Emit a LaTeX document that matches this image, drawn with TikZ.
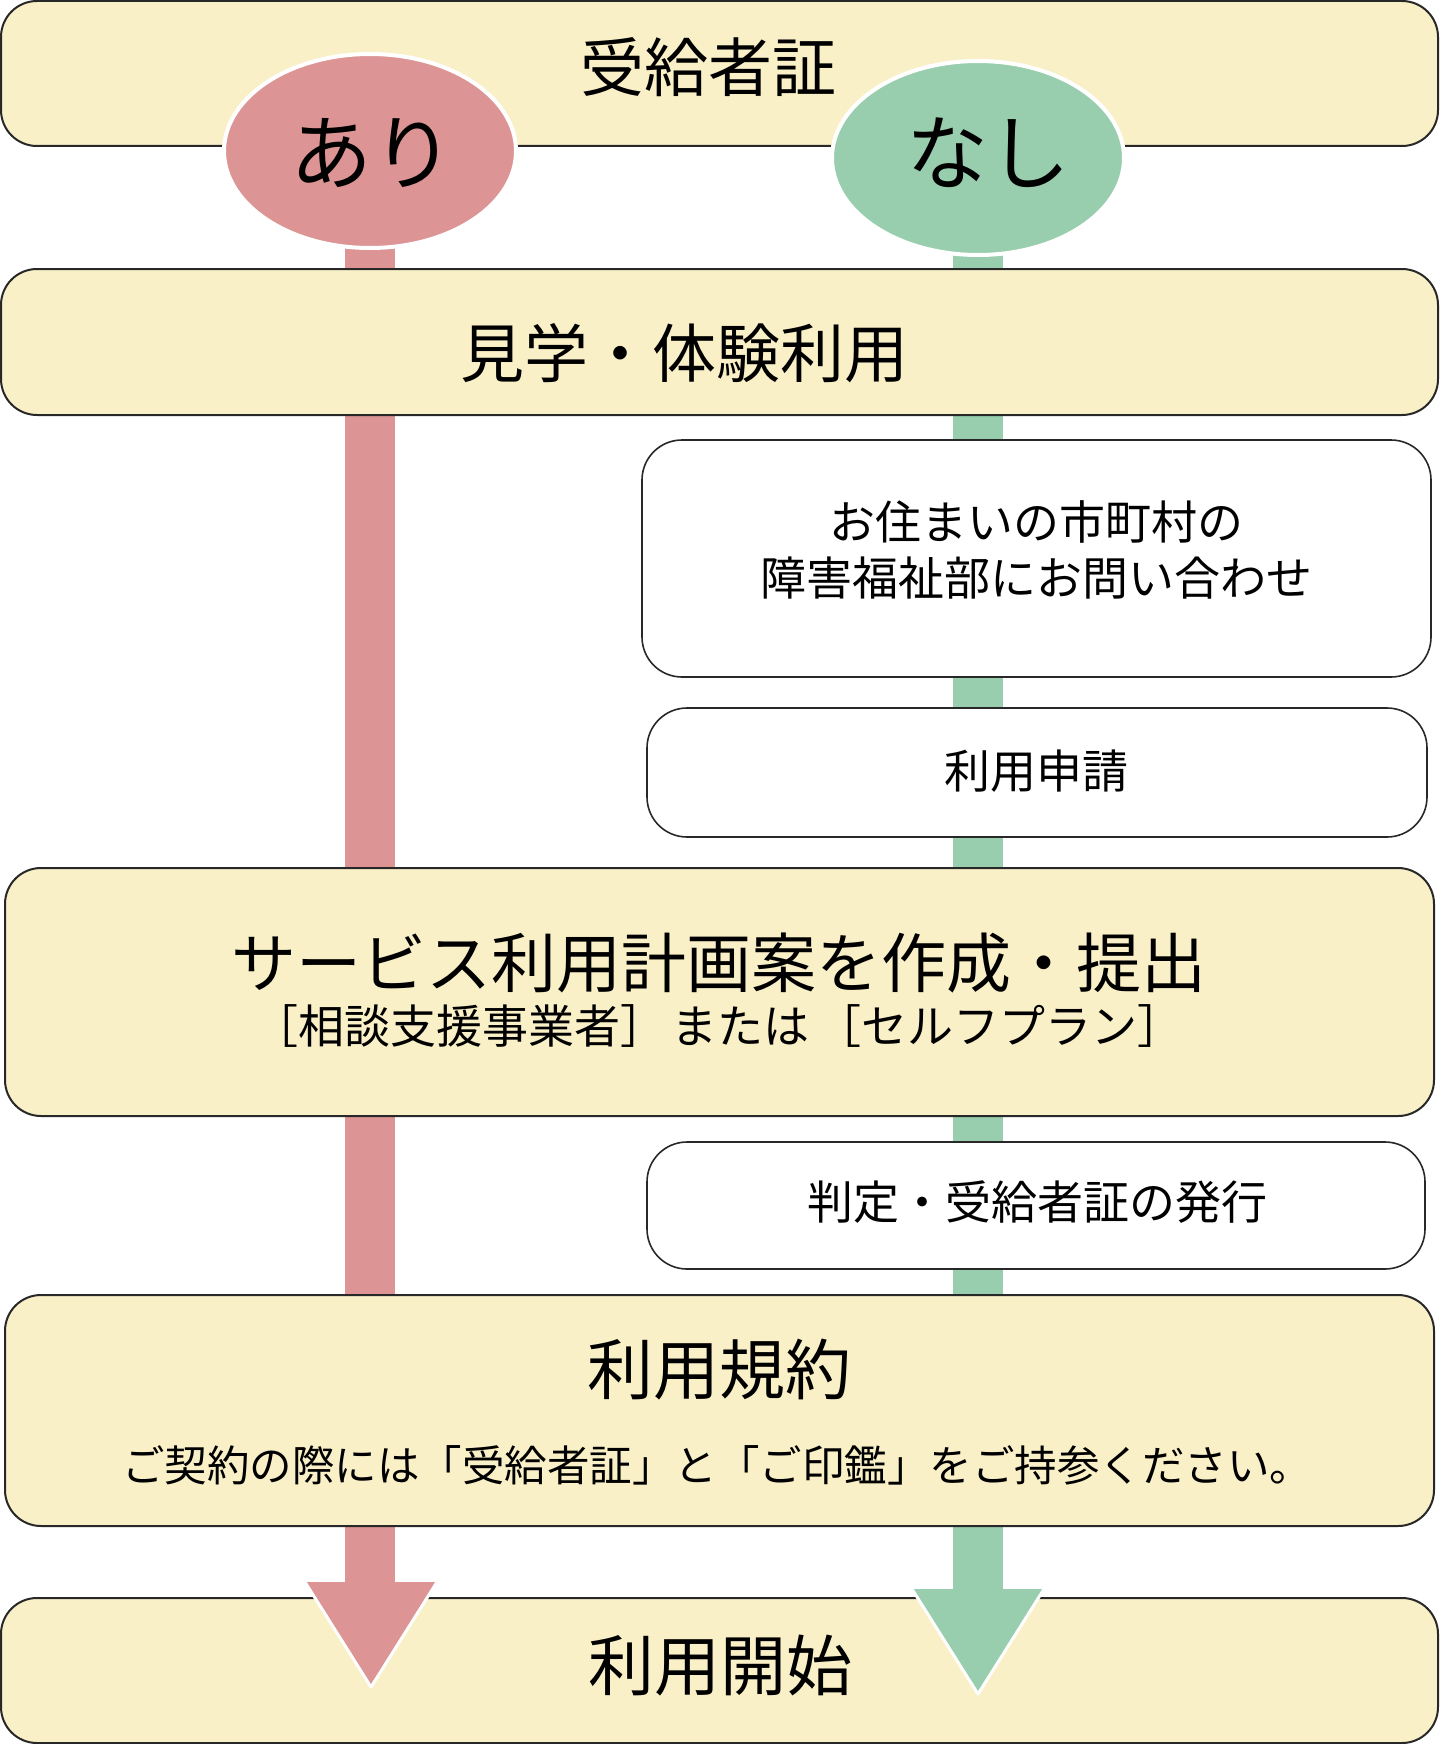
\documentclass[tikz,border=0pt]{standalone}
\usepackage{fontspec}
\setmainfont{Noto Sans CJK JP}
\usetikzlibrary{shapes.geometric,backgrounds}
\definecolor{cream}{RGB}{250,240,200}
\definecolor{pinkbar}{RGB}{220,148,148}
\definecolor{greenbar}{RGB}{152,206,174}
\definecolor{edgecol}{RGB}{40,40,40}
\newcommand\jfs[2]{\fontsize{#1pt}{#2pt}\selectfont}
\tikzset{
  creambox/.style={draw=edgecol, line width=2pt, fill=cream, rounded corners=36pt, inner sep=0pt},
  whitebox/.style={draw=edgecol, line width=1.6pt, fill=white, rounded corners=40pt, inner sep=0pt},
  oval/.style={ellipse, draw=white, line width=4pt, minimum width=292pt, minimum height=194pt, inner sep=0pt},
  bar/.style={line width=50pt},
  txt/.style={inner sep=0pt, text=black, align=center},
}
\begin{document}
\begin{tikzpicture}[x=1pt,y=-1pt]
\useasboundingbox (0,0) rectangle (1440,1744);
% boxes
\node[creambox, minimum width=1437pt, minimum height=145pt] (b1) at (719.5,73.5) {};
\node[creambox, minimum width=1437pt, minimum height=146pt] (b2) at (719.5,342) {};
\node[whitebox, minimum width=789pt, minimum height=237pt] (b3) at (1036.5,558.5) {};
\node[whitebox, minimum width=780pt, minimum height=129pt] (b4) at (1037,772.5) {};
\node[creambox, minimum width=1429pt, minimum height=248pt] (b5) at (719.5,992) {};
\node[whitebox, minimum width=778pt, minimum height=127pt] (b6) at (1036,1205.5) {};
\node[creambox, minimum width=1429pt, minimum height=231pt] (b7) at (719.5,1410.5) {};
\node[creambox, minimum width=1437pt, minimum height=145pt] (b8) at (719.5,1670.5) {};
% ovals
\node[oval, fill=pinkbar] (ari) at (370,151) {};
\node[oval, fill=greenbar] (nashi) at (978,158) {};
% texts
\node[txt, font=\jfs{64}{64}] (t1) at (708,67) {受給者証};
\node[txt, font=\jfs{82}{82}] (tari) at (372,153) {あり};
\node[txt, font=\jfs{82}{82}] (tnashi) at (988,153) {なし};
\node[txt, font=\jfs{64}{64}] (t2) at (684,353) {見学・体験利用};
\node[txt, font=\jfs{46}{56}] (t3) at (1036,550) {お住まいの市町村の\\障害福祉部にお問い合わせ};
\node[txt, font=\jfs{46}{46}] (t4) at (1036,771) {利用申請};
\node[txt, font=\jfs{65}{65}] (t5a) at (719,963) {サービス利用計画案を作成・提出};
\node[txt, font=\jfs{46}{46}] (t5b) at (718,1026) {［相談支援事業者］\hspace{6pt}または\hspace{6pt}［セルフプラン］};
\node[txt, font=\jfs{46}{46}] (t6) at (1037,1202) {判定・受給者証の発行};
\node[txt, font=\jfs{66}{66}] (t7a) at (719,1370) {利用規約};
\node[txt, font=\jfs{42.5}{42.5}] (t7b) at (717,1465) {ご契約の際には「受給者証」と「ご印鑑」をご持参ください。};
\node[txt, font=\jfs{66}{66}] (t8) at (720,1666) {利用開始};
% arrow coordinates
\coordinate (rbase) at (370,1586);
\coordinate (gbase) at (978,1593);
\coordinate (rl) at (305,1582);
\coordinate (rr) at (437,1582);
\coordinate (rtip) at (371,1687);
\coordinate (gl) at (912,1589);
\coordinate (gr) at (1044,1589);
\coordinate (gtip) at (978,1694);
\begin{scope}[on background layer]
  \draw[bar, pinkbar] (ari.center) -- (rbase);
  \draw[bar, greenbar] (nashi.center) -- (gbase);
\end{scope}
\fill[pinkbar] (rl) -- (rtip) -- (rr) -- cycle;
\draw[white, line width=3pt, line join=round] (rl) -- (rtip) -- (rr);
\fill[greenbar] (gl) -- (gtip) -- (gr) -- cycle;
\draw[white, line width=3pt, line join=round] (gl) -- (gtip) -- (gr);
\end{tikzpicture}
\end{document}
